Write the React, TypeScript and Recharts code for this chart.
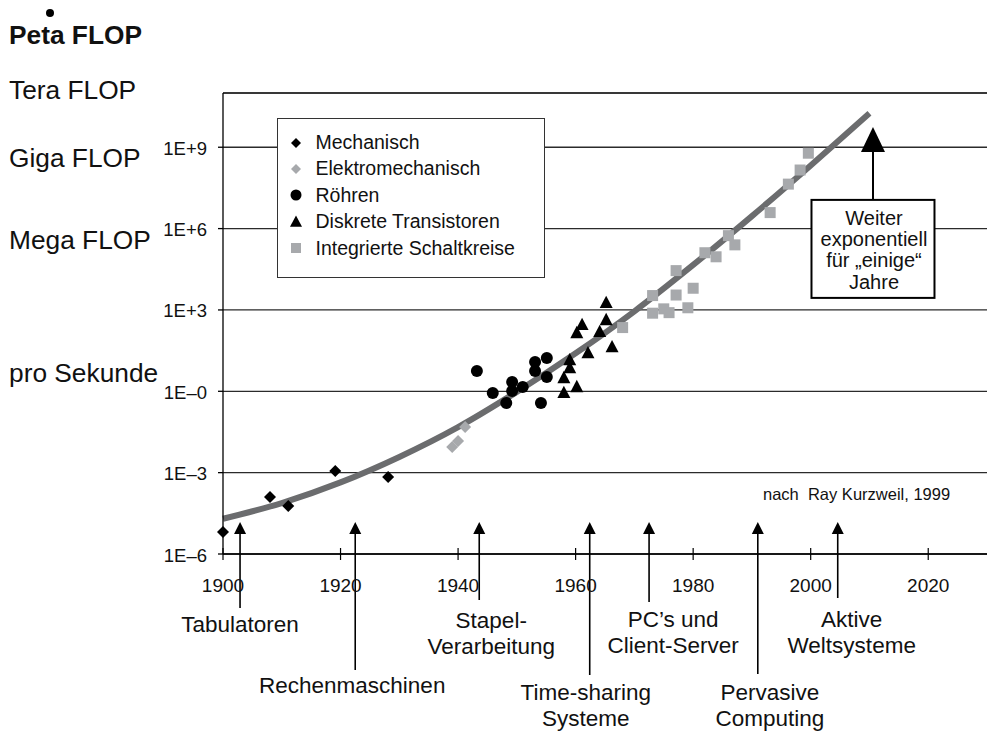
import React from "react";
import {
  ComposedChart,
  Line,
  Scatter,
  XAxis,
  YAxis,
  CartesianGrid,
  ReferenceLine,
} from "recharts";

const FONT = '"Liberation Sans", Arial, Helvetica, sans-serif';
const W = 987;
const H = 732;

// x = Jahr, y = log10(FLOP pro Sekunde)
const mechanisch = [
  { x: 1900.0, y: -5.19 },
  { x: 1908.0, y: -3.9 },
  { x: 1911.1, y: -4.23 },
  { x: 1919.1, y: -2.94 },
  { x: 1928.1, y: -3.16 },
];

const elektromechanisch = [
  { x: 1939.0, y: -2.05 },
  { x: 1940.0, y: -1.83 },
  { x: 1941.2, y: -1.32 },
];

const roehren = [
  { x: 1943.2, y: 0.75 },
  { x: 1945.9, y: -0.06 },
  { x: 1948.2, y: -0.43 },
  { x: 1949.2, y: 0.34 },
  { x: 1949.2, y: 0.01 },
  { x: 1951.0, y: 0.16 },
  { x: 1953.1, y: 1.08 },
  { x: 1953.1, y: 0.75 },
  { x: 1954.1, y: -0.43 },
  { x: 1955.1, y: 1.23 },
  { x: 1955.1, y: 0.53 },
];

const transistoren = [
  { x: 1958.0, y: -0.06 },
  { x: 1958.0, y: 0.49 },
  { x: 1959.0, y: 0.86 },
  { x: 1959.0, y: 1.15 },
  { x: 1960.2, y: 0.16 },
  { x: 1960.2, y: 2.15 },
  { x: 1961.1, y: 2.45 },
  { x: 1962.1, y: 1.41 },
  { x: 1964.1, y: 2.19 },
  { x: 1965.2, y: 2.63 },
  { x: 1965.2, y: 3.26 },
  { x: 1966.2, y: 1.63 },
];

const schaltkreise = [
  { x: 1968.0, y: 2.35 },
  { x: 1973.1, y: 2.88 },
  { x: 1973.1, y: 3.53 },
  { x: 1975.0, y: 3.04 },
  { x: 1975.9, y: 2.9 },
  { x: 1977.1, y: 3.55 },
  { x: 1977.1, y: 4.45 },
  { x: 1979.1, y: 3.08 },
  { x: 1980.0, y: 3.8 },
  { x: 1982.0, y: 5.11 },
  { x: 1983.9, y: 4.96 },
  { x: 1986.0, y: 5.74 },
  { x: 1987.1, y: 5.4 },
  { x: 1993.1, y: 6.59 },
  { x: 1996.2, y: 7.64 },
  { x: 1998.2, y: 8.16 },
  { x: 1999.6, y: 8.78 },
];

const trend = [
  { x: 1900, y: -4.7 },
  { x: 1910, y: -4.12 },
  { x: 1920, y: -3.36 },
  { x: 1930, y: -2.42 },
  { x: 1940, y: -1.32 },
  { x: 1950, y: -0.02 },
  { x: 1960, y: 1.4 },
  { x: 1970, y: 2.95 },
  { x: 1980, y: 4.66 },
  { x: 1990, y: 6.46 },
  { x: 2000, y: 8.33 },
  { x: 2010, y: 10.25 },
];

const yearTicks = [1900, 1920, 1940, 1960, 1980, 2000, 2020];
const powerTicks = [-6, -3, 0, 3, 6, 9];
const powerTickLabels = ["1E–6", "1E–3", "1E–0", "1E+3", "1E+6", "1E+9"];

const seriesNames = [
  "Mechanisch",
  "Elektromechanisch",
  "Röhren",
  "Diskrete Transistoren",
  "Integrierte Schaltkreise",
];

const milestoneYears = [1902.9, 1922.5, 1943.6, 1962.4, 1972.5, 1991.0, 2004.6];
const milestoneLabels = [
  ["Tabulatoren"],
  ["Rechenmaschinen"],
  ["Stapel-", "Verarbeitung"],
  ["Time-sharing", "Systeme"],
  ["PC’s und", "Client-Server"],
  ["Pervasive", "Computing"],
  ["Aktive", "Weltsysteme"],
];

const outlookYear = 2010.6;
const outlookLevel = 9.75;
const outlookLines = ["Weiter", "exponentiell", "für „einige“", "Jahre"];

const sideLabels = ["Peta FLOP", "Tera FLOP", "Giga FLOP", "Mega FLOP", "pro Sekunde"];
const sourceNote = "nach\u00a0 Ray Kurzweil, 1999";

// Pixel-Layout (relativ zur x-Achse) für die Meilenstein-Pfeile
const milestoneLayout = [
  { dx: 0, end: 54, base: 78 },
  { dx: -3, end: 116, base: 139 },
  { dx: 12, end: 46, base: 74 },
  { dx: -4, end: 121, base: 146 },
  { dx: 24, end: 48, base: 73 },
  { dx: 12, end: 120, base: 146 },
  { dx: 14, end: 44, base: 73 },
];
const sideLabelY = [44, 99, 167, 249, 382];

const DARK = "#000";
const GRAY = "#a7a9ac";
const TREND = "#6b6c6e";

const diamond = (fill: string, r: number) => (p: any) => (
  <polygon
    points={`${p.cx},${p.cy - r} ${p.cx + r},${p.cy} ${p.cx},${p.cy + r} ${p.cx - r},${p.cy}`}
    fill={fill}
  />
);
const circle = (fill: string, r: number) => (p: any) => (
  <circle cx={p.cx} cy={p.cy} r={r} fill={fill} />
);
const triangle = (fill: string, w: number) => (p: any) => (
  <polygon
    points={`${p.cx},${p.cy - w * 0.55} ${p.cx + w / 2},${p.cy + w * 0.4} ${p.cx - w / 2},${p.cy + w * 0.4}`}
    fill={fill}
  />
);
const square = (fill: string, s: number) => (p: any) => (
  <rect x={p.cx - s / 2} y={p.cy - s / 2} width={s} height={s} fill={fill} />
);

const chartShapes = [
  diamond(DARK, 6),
  diamond(GRAY, 6),
  circle(DARK, 6),
  triangle(DARK, 13),
  square(GRAY, 11),
];
const legendShapes = [
  diamond(DARK, 5),
  diamond(GRAY, 5),
  circle(DARK, 5.5),
  triangle(DARK, 12),
  square(GRAY, 10),
];

const XTick = ({ x, y, payload }: any) => (
  <g>
    <line x1={x} x2={x} y1={y - 6} y2={y + 6} stroke={DARK} strokeWidth={1.2} />
    <text x={x} y={y + 38} textAnchor="middle" fontSize={19} fontFamily={FONT} fill="#111">
      {payload.value}
    </text>
  </g>
);

const YTick = ({ x, y, payload }: any) => {
  const i = powerTicks.indexOf(payload.value);
  return (
    <text x={x} y={y + 7.5} textAnchor="end" fontSize={18.5} fontFamily={FONT} fill="#111">
      {powerTickLabels[i]}
    </text>
  );
};

const Milestone = (p: any) => {
  const { cx, cy, payload } = p;
  const lay = milestoneLayout[payload.i];
  return (
    <g>
      <line x1={cx} x2={cx} y1={cy - 24} y2={cy + lay.end} stroke={DARK} strokeWidth={1.6} />
      <polygon points={`${cx},${cy - 32} ${cx - 6},${cy - 20} ${cx + 6},${cy - 20}`} fill={DARK} />
      {payload.lines.map((t: string, k: number) => (
        <text
          key={k}
          x={cx + lay.dx}
          y={cy + lay.base + k * 26}
          textAnchor="middle"
          fontSize={22.5}
          fontFamily={FONT}
          fill="#111"
        >
          {t}
        </text>
      ))}
    </g>
  );
};

const Outlook = (p: any) => {
  const { cx, cy } = p;
  return (
    <g>
      <polygon points={`${cx},${cy} ${cx - 12},${cy + 25} ${cx + 12},${cy + 25}`} fill={DARK} />
      <line x1={cx} x2={cx} y1={cy + 24} y2={cy + 73} stroke={DARK} strokeWidth={2} />
      <rect x={cx - 61.5} y={cy + 73} width={123} height={98} fill="#fff" stroke={DARK} strokeWidth={2} />
      {outlookLines.map((t, k) => (
        <text
          key={k}
          x={cx + 1}
          y={cy + 98 + k * 21.3}
          textAnchor="middle"
          fontSize={20}
          fontFamily={FONT}
          fill="#111"
        >
          {t}
        </text>
      ))}
    </g>
  );
};

const milestones = milestoneYears.map((x, i) => ({ x, y: -6, i, lines: milestoneLabels[i] }));
const outlook = [{ x: outlookYear, y: outlookLevel }];
const series = [mechanisch, elektromechanisch, roehren, transistoren, schaltkreise];

const App = () => {
  return (
    <div style={{ position: "absolute", left: 0, top: 0, width: W, height: H, background: "#fff" }}>
      <svg
        width={W}
        height={H}
        style={{ position: "absolute", left: 0, top: 0, pointerEvents: "none" }}
      >
        <circle cx={50} cy={13} r={4} fill={DARK} />
        {sideLabels.map((t, i) => (
          <text
            key={t}
            x={9}
            y={sideLabelY[i]}
            fontSize={26.3}
            fontWeight={i === 0 ? "bold" : "normal"}
            fontFamily={FONT}
            fill="#111"
          >
            {t}
          </text>
        ))}
        <text x={763} y={500} fontSize={16.5} fontFamily={FONT} fill="#111">
          {sourceNote}
        </text>
      </svg>

      <div style={{ position: "absolute", left: 0, top: 0 }}>
        <ComposedChart width={W} height={H} margin={{ top: 93, right: 0, bottom: 148, left: 163 }}>
          <CartesianGrid vertical={false} stroke="#2b2b2b" strokeWidth={1.3} />
          <ReferenceLine y={11} stroke="#2b2b2b" strokeWidth={1.3} />
          <XAxis
            type="number"
            dataKey="x"
            domain={[1900, 2030]}
            ticks={yearTicks}
            interval={0}
            height={30}
            axisLine={{ stroke: DARK, strokeWidth: 1.3 }}
            tickLine={false}
            tickSize={0}
            tickMargin={0}
            tick={<XTick />}
          />
          <YAxis
            type="number"
            dataKey="y"
            domain={[-6, 11]}
            ticks={powerTicks}
            interval={0}
            width={60}
            axisLine={{ stroke: DARK, strokeWidth: 1.3 }}
            tickLine={{ stroke: DARK, strokeWidth: 1.3 }}
            tickSize={5}
            tickMargin={11}
            tick={<YTick />}
          />
          {series.map((d, i) => (
            <Scatter
              key={seriesNames[i]}
              name={seriesNames[i]}
              data={d}
              dataKey="y"
              shape={chartShapes[i]}
              isAnimationActive={false}
            />
          ))}
          <Line
            data={trend}
            dataKey="y"
            type="monotone"
            stroke={TREND}
            strokeWidth={6}
            dot={false}
            activeDot={false}
            isAnimationActive={false}
          />
          <Scatter data={milestones} dataKey="y" shape={Milestone} isAnimationActive={false} />
          <Scatter data={outlook} dataKey="y" shape={Outlook} isAnimationActive={false} />
        </ComposedChart>
      </div>

      <div
        style={{
          position: "absolute",
          left: 277,
          top: 118,
          width: 268,
          height: 160,
          boxSizing: "border-box",
          border: "1.5px solid #333",
          background: "#fff",
          fontFamily: FONT,
          fontSize: 19.5,
          color: "#111",
        }}
      >
        {seriesNames.map((name, i) => (
          <div
            key={name}
            style={{
              position: "absolute",
              left: 0,
              top: 10.5 + i * 26.4,
              height: 26,
              display: "flex",
              alignItems: "center",
              whiteSpace: "nowrap",
            }}
          >
            <svg width={37.5} height={26} style={{ display: "block" }}>
              {legendShapes[i]({ cx: 18, cy: 13 })}
            </svg>
            <span>{name}</span>
          </div>
        ))}
      </div>
    </div>
  );
};

export default App;
